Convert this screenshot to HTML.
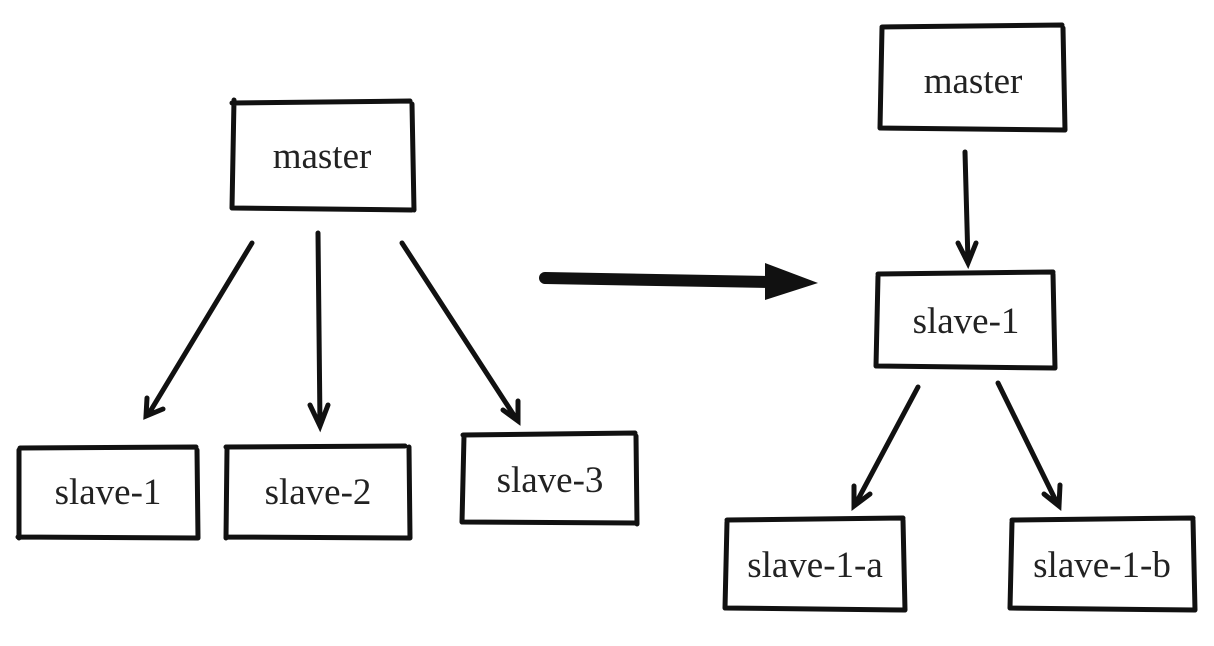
<!DOCTYPE html>
<html><head><meta charset="utf-8"><style>
html,body{margin:0;padding:0;background:#fff;}
svg{display:block}
</style></head><body>
<svg width="1214" height="646" viewBox="0 0 1214 646" xmlns="http://www.w3.org/2000/svg">
<g fill="none" stroke="#111" stroke-width="5" stroke-linecap="round">
<path d="M232 103 L410 101 M234 100 L232 208 M232 208 L412 210 M412 104 L414 210"/>
<path d="M20 448 L196 447 M19 450 L19 538 M18 537 L198 538 M197 450 L198 538"/>
<path d="M226 447 L405 446 M227 449 L226 538 M226 537 L410 538 M409 447 L410 538"/>
<path d="M463 435 L635 433 M464 436 L462 522 M462 522 L637 523 M636 436 L637 524"/>
<path d="M882 27 L1062 25 M882 28 L880 128 M880 128 L1065 130 M1063 28 L1065 130"/>
<path d="M878 274 L1053 272 M878 276 L876 366 M876 366 L1055 368 M1053 274 L1055 368"/>
<path d="M727 520 L903 518 M727 522 L725 608 M725 608 L905 610 M903 520 L905 610"/>
<path d="M1012 520 L1193 518 M1012 522 L1010 608 M1010 608 L1195 610 M1193 520 L1195 610"/>
<path d="M252 243 L148 415 M147 398 L146 416 L163 409"/>
<path d="M318 233 L320 425 M310 405 L320 426 L328 405"/>
<path d="M402 243 L517 420 M503 410 L518 421 L518 401"/>
<path d="M965 152 L968 262 M958 243 L968 263 L976 243"/>
<path d="M918 387 L855 505 M854 486 L854 506 L870 494"/>
<path d="M998 383 L1058 505 M1044 494 L1059 506 L1060 485"/>
</g>
<path d="M545 278 L770 282" stroke="#111" stroke-width="12" stroke-linecap="round" fill="none"/>
<path d="M765 263 L818 283 L765 300 Z" fill="#111"/>
<g font-family="Liberation Serif, serif" font-size="37" fill="#222" text-anchor="middle">
<text x="322" y="168">master</text>
<text x="108" y="504">slave-1</text>
<text x="318" y="504">slave-2</text>
<text x="550" y="492">slave-3</text>
<text x="973" y="93">master</text>
<text x="966" y="333">slave-1</text>
<text x="815" y="577">slave-1-a</text>
<text x="1102" y="577">slave-1-b</text>
</g>
</svg>
</body></html>
